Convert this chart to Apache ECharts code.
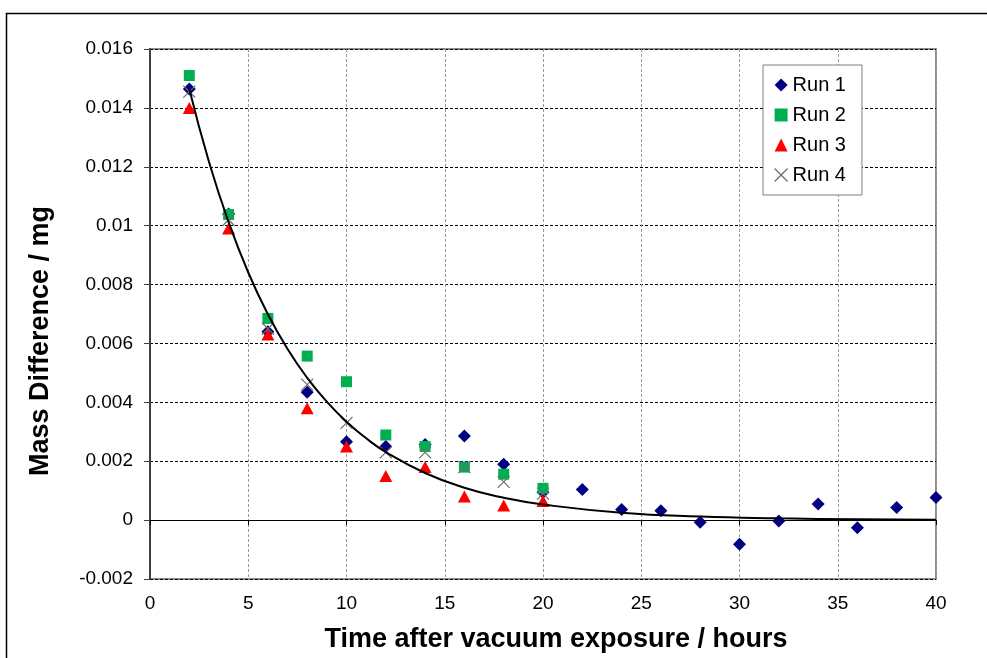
<!DOCTYPE html>
<html>
<head>
<meta charset="utf-8">
<script src="https://cdn.jsdelivr.net/npm/echarts@6/dist/echarts.min.js"></script>
<style>
html,body{margin:0;padding:0;background:#fff;}
#chart{width:987px;height:658px;}
</style>
</head>
<body>
<div id="chart"></div>
<script>
// ---- data ----
const xRun1 = [2,4,6,8,10,12,14,16,18,20,22,24,26,28,30,32,34,36,38,40];
const run1 = [0.01464,0.0104,0.0064,0.00434,0.00266,0.0025,0.00257,0.00286,0.0019,0.00095,0.00104,0.00036,0.00032,-0.00007,-0.00082,-0.00003,0.00055,-0.00026,0.00043,0.00077];
const xRuns = [2,4,6,8,10,12,14,16,18,20];
const run2 = [0.0151,0.01038,0.00685,0.00557,0.0047,0.00289,0.0025,0.0018,0.00156,0.00108];
const run3 = [0.0140,0.0099,0.0063,0.0038,0.0025,0.0015,0.0018,0.0008,0.0005,0.00065];
const run4 = [0.01455,0.0102,0.0065,0.0046,0.0033,0.0023,0.0023,0.0018,0.0013,0.0009];
const trendX = [2,3,4,5,6,7,8,9,10,11,12,14,16,18,20,24,28,32,36,40];
const trendY = [0.01464,0.01217,0.01012,0.00841,0.00699,0.00581,0.00483,0.00402,0.00334,0.00278,0.00231,0.0016,0.0011,0.00076,0.00053,0.00025,0.00012,0.00006,0.00003,0.00001];
const seriesNames = ['Run 1','Run 2','Run 3','Run 4'];
const xTitle = 'Time after vacuum exposure / hours';
const yTitle = 'Mass Difference / mg';

function pairs(xs, ys){ return xs.map((x,i)=>[x, ys[i]]); }

const crossPath = 'path://M0,0L10,10M10,0L0,10';
const FONT = 'Liberation Sans, Arial, sans-serif';
const titleFont = 'bold 27px "Liberation Sans", Arial, sans-serif';

const chart = echarts.init(document.getElementById('chart'), null, {renderer:'canvas'});
chart.setOption({
  animation:false,
  backgroundColor:'#fff',
  textStyle:{fontFamily:FONT},
  graphic:[{
    type:'rect', left:4, top:11, shape:{width:1100, height:800},
    style:{fill:'none', stroke:'#000', lineWidth:1.5}, silent:true, z:-10
  },{
    type:'text', x:556, y:640, silent:true,
    style:{text:xTitle, font:titleFont, fill:'#000', align:'center', verticalAlign:'middle'}
  },{
    type:'text', x:41, y:341, rotation:Math.PI/2, silent:true,
    style:{text:yTitle, font:titleFont, fill:'#000', align:'center', verticalAlign:'middle'}
  }],
  grid:{left:150, top:49, width:786, height:530, show:true, borderColor:'#8c8c8c', borderWidth:2, backgroundColor:'transparent'},
  legend:{
    orient:'vertical', left:763, top:65,
    backgroundColor:'#fff', borderColor:'#7f7f7f', borderWidth:1,
    padding:[10,16,10,11], itemGap:10, itemWidth:13, itemHeight:13,
    textStyle:{fontFamily:FONT, fontSize:20, color:'#000', lineHeight:20},
    data:[
      {name:'Run 1', icon:'diamond', itemStyle:{opacity:1}},
      {name:'Run 2', icon:'rect', itemStyle:{opacity:1}},
      {name:'Run 3', icon:'triangle', itemStyle:{opacity:1}},
      {name:'Run 4', icon:crossPath, itemStyle:{color:'transparent', borderColor:'#6d6d6d', borderWidth:1.2, opacity:1}}
    ]
  },
  xAxis:[{
    type:'value', min:0, max:40, interval:5, position:'bottom',
    axisLine:{show:false, onZero:false},
    axisTick:{show:false},
    axisLabel:{fontFamily:FONT, fontSize:19, color:'#000', margin:15},
    splitLine:{show:true, lineStyle:{color:'#9a9a9a', type:[3,2], width:1}}
  },{
    type:'value', min:0, max:40, interval:5, position:'bottom',
    axisLine:{show:true, onZero:true, onZeroAxisIndex:0, lineStyle:{color:'#000', width:1.2}},
    axisTick:{show:true, inside:false, length:5, lineStyle:{color:'#000'}},
    axisLabel:{show:false},
    splitLine:{show:false}
  }],
  yAxis:{
    type:'value', min:-0.002, max:0.016, interval:0.002,
    axisLine:{show:true, lineStyle:{color:'#404040', width:2}},
    axisTick:{show:true, length:6, lineStyle:{color:'#404040'}},
    axisLabel:{fontFamily:FONT, fontSize:19, color:'#000', margin:17,
      formatter:v=>String(parseFloat(v.toFixed(4)))},
    splitLine:{show:true, lineStyle:{color:'#000', type:[3,2], width:1}}
  },
  series:[
    {name:'Run 1', type:'scatter', symbol:'diamond', symbolSize:13, itemStyle:{color:'#000080', opacity:1}, data:pairs(xRun1, run1), z:3},
    {name:'Run 2', type:'scatter', symbol:'rect', symbolSize:11, itemStyle:{color:'#00b050', opacity:1}, data:pairs(xRuns, run2), z:4},
    {name:'Run 3', type:'scatter', symbol:'triangle', symbolSize:[13,12], itemStyle:{color:'#ff0000', opacity:1}, data:pairs(xRuns, run3), z:5},
    {name:'Run 4', type:'scatter', symbol:crossPath, symbolSize:12, itemStyle:{color:'transparent', borderColor:'#6d6d6d', borderWidth:1.2, opacity:1}, data:pairs(xRuns, run4), z:6},
    {name:'Trend', type:'line', data:pairs(trendX, trendY), smooth:0.5, showSymbol:false, symbol:'none',
      lineStyle:{color:'#000', width:2}, z:7, silent:true}
  ]
});
</script>
</body>
</html>
